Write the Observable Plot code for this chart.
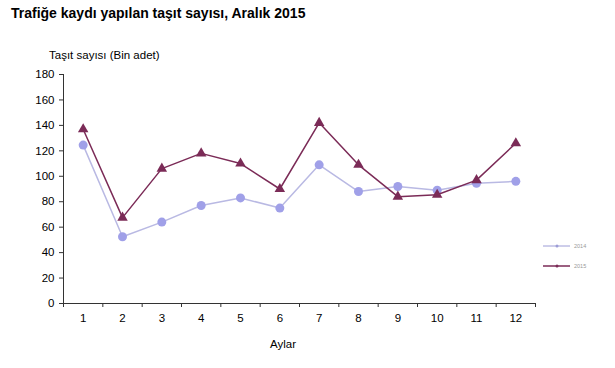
<!DOCTYPE html>
<html>
<head>
<meta charset="utf-8">
<script src="https://cdn.jsdelivr.net/npm/d3@7"></script>
<script src="https://cdn.jsdelivr.net/npm/@observablehq/plot@0.6"></script>
<style>
  html, body { margin: 0; padding: 0; background: #fff; }
  #wrap { position: relative; width: 615px; height: 368px; font-family: "Liberation Sans", Arial, sans-serif; }
  #wrap svg { position: absolute; left: 0; top: 0; }
  .t { position: absolute; white-space: nowrap; color: #000; }
</style>
</head>
<body>
<div id="wrap">
  <div class="t" id="title" style="left:11px; top:5px; font-size:14px; font-weight:bold;">Trafiğe kaydı yapılan taşıt sayısı, Aralık 2015</div>
  <div class="t" id="ylab" style="left:49px; top:49px; font-size:11.5px;">Taşıt sayısı (Bin adet)</div>
  <div class="t" id="xlab" style="left:283px; top:338px; font-size:11.5px; transform:translateX(-50%);">Aylar</div>
</div>
<script>
const months = [1, 2, 3, 4, 5, 6, 7, 8, 9, 10, 11, 12];
const v2014 = [124.5, 52.5, 64, 77, 83, 75, 109, 88, 92, 89, 94.5, 96];
const v2015 = [137, 67.5, 106, 118, 110, 90, 142, 109, 84, 85.5, 97, 126];
const yTicks = [0, 20, 40, 60, 80, 100, 120, 140, 160, 180];
const seriesNames = ["2014", "2015"];
const seriesColors = ["#a0a0e8", "#7b2b57"];
const lineColors = ["#b9b9e3", "#7b2b57"];

const d2014 = months.map((m, i) => ({month: m, value: v2014[i]}));
const d2015 = months.map((m, i) => ({month: m, value: v2015[i]}));
const boundaries = months.map(m => m - 0.5).concat([months[months.length - 1] + 0.5]);

const chart = Plot.plot({
  width: 615,
  height: 368,
  marginLeft: 63,
  marginRight: 80,
  marginTop: 74,
  marginBottom: 65,
  style: {fontFamily: "'Liberation Sans', Arial, sans-serif", fontSize: "11.5px", color: "#000", background: "transparent", overflow: "visible"},
  x: {domain: [boundaries[0], boundaries[boundaries.length - 1]]},
  y: {domain: [0, 180]},
  marks: [
    Plot.axisY({ticks: yTicks, tickSize: 4, tickPadding: 5, label: null, stroke: "#333"}),
    Plot.axisX({ticks: months, tickSize: 0, tickPadding: 10, label: null}),
    Plot.axisX({ticks: boundaries, tickSize: 4, tickFormat: () => "", label: null, stroke: "#333"}),
    Plot.ruleX([boundaries[0]], {stroke: "#333"}),
    Plot.ruleY([0], {stroke: "#333"}),
    Plot.line(d2014, {x: "month", y: "value", stroke: lineColors[0], strokeWidth: 1.5}),
    Plot.dot(d2014, {x: "month", y: "value", r: 4.5, fill: seriesColors[0], stroke: "none"}),
    Plot.line(d2015, {x: "month", y: "value", stroke: lineColors[1], strokeWidth: 1.5}),
    Plot.dot(d2015, {x: "month", y: "value", r: 3.9, symbol: "triangle", fill: seriesColors[1], stroke: "none"})
  ]
});
document.getElementById("wrap").prepend(chart);

// legend
const ns = "http://www.w3.org/2000/svg";
const leg = document.createElementNS(ns, "svg");
leg.setAttribute("width", 70);
leg.setAttribute("height", 40);
leg.style.left = "540px";
leg.style.top = "235px";
leg.style.position = "absolute";
seriesNames.forEach((name, i) => {
  const y = 11 + i * 20;
  const l = document.createElementNS(ns, "line");
  l.setAttribute("x1", 3); l.setAttribute("x2", 30);
  l.setAttribute("y1", y); l.setAttribute("y2", y);
  l.setAttribute("stroke", i === 0 ? "#9c9cd6" : seriesColors[1]);
  l.setAttribute("stroke-width", i === 0 ? 1 : 1.5);
  leg.appendChild(l);
  const c = document.createElementNS(ns, "circle");
  c.setAttribute("cx", 17); c.setAttribute("cy", y); c.setAttribute("r", 1.5);
  c.setAttribute("fill", i === 0 ? "#9c9cd6" : seriesColors[1]);
  leg.appendChild(c);
  const t = document.createElementNS(ns, "text");
  t.setAttribute("x", 34); t.setAttribute("y", y + 2);
  t.setAttribute("font-size", "5.5px");
  t.setAttribute("fill", "#999");
  t.setAttribute("font-family", "'Liberation Sans', Arial, sans-serif");
  t.textContent = name;
  leg.appendChild(t);
});
document.getElementById("wrap").appendChild(leg);
</script>
</body>
</html>
